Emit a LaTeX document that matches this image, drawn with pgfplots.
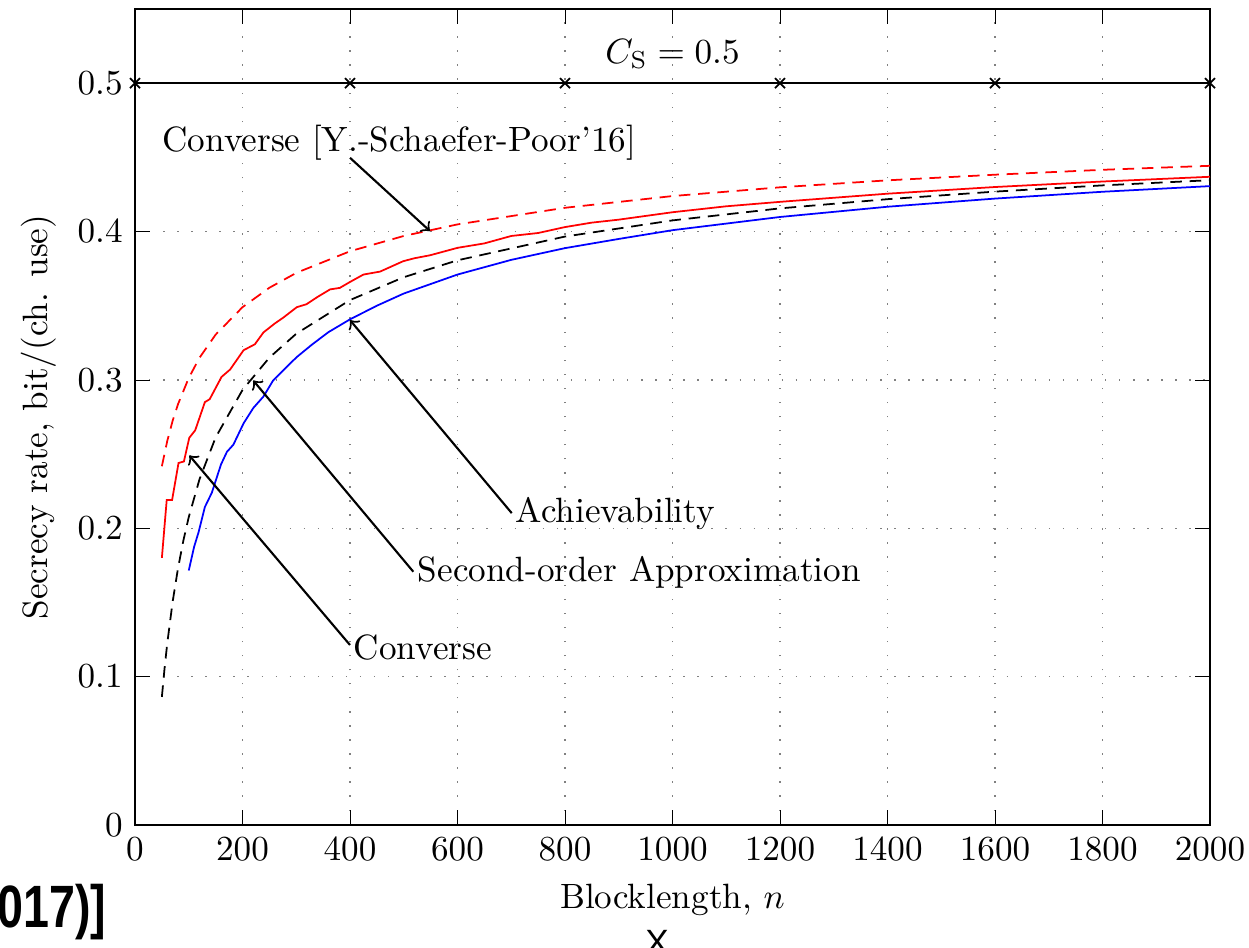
\documentclass[border=0pt]{standalone}
\usepackage{pgfplots}
\pgfplotsset{compat=1.18}
\usepackage{fontspec}
\newfontfamily\slidefont{Liberation Sans}

\pgfplotstableread{
n y
50 0.2418
60 0.2588
70 0.2724
80 0.2836
100 0.3013
120 0.3149
150 0.3305
200 0.3490
250 0.3621
300 0.3721
400 0.3867
500 0.3970
600 0.4048
800 0.4160
1000 0.4239
1200 0.4298
1400 0.4345
1600 0.4383
1800 0.4416
2000 0.4443
}\convprev

\pgfplotstableread{
n y
50 0.180
59 0.219
69 0.219
81 0.244
91 0.245
101 0.261
112 0.266
130 0.285
139 0.287
161 0.302
177 0.307
202 0.320
223 0.324
239 0.332
260 0.338
276 0.342
301 0.349
319 0.351
340 0.356
363 0.361
381 0.362
400 0.366
425 0.371
456 0.373
499 0.380
520 0.382
549 0.384
600 0.389
650 0.392
700 0.397
750 0.399
800 0.403
850 0.406
900 0.408
1000 0.413
1100 0.417
1200 0.420
1400 0.4255
1600 0.4300
1800 0.4337
2000 0.4369
}\conv

\pgfplotstableread{
n y
50 0.0863
55 0.1056
60 0.1224
70 0.1504
80 0.1730
90 0.1917
100 0.2075
120 0.2330
150 0.2612
200 0.2932
250 0.3150
300 0.3311
400 0.3538
500 0.3692
600 0.3806
800 0.3966
1000 0.4075
1200 0.4156
1400 0.4218
1600 0.4269
1800 0.4311
2000 0.4346
}\approxso

\pgfplotstableread{
n y
100 0.1715
110 0.1875
118 0.1970
130 0.2143
143 0.2240
160 0.2430
171 0.2515
183 0.2563
202 0.2707
220 0.2810
239 0.2888
257 0.2996
280 0.3080
301 0.3154
330 0.3240
360 0.3322
400 0.3408
450 0.3500
500 0.3582
600 0.3710
700 0.3809
800 0.3888
900 0.3950
1000 0.4009
1200 0.4098
1400 0.4167
1600 0.4222
1800 0.4268
2000 0.4306
}\achiev

\begin{document}
\begin{tikzpicture}
\useasboundingbox (0,0) rectangle (124.9mm,94.8mm);
\begin{axis}[at={(13.5mm,12.3mm)},anchor=south west,scale only axis,
 width=107.5mm,height=81.6mm,
 xmin=0,xmax=2000,ymin=0,ymax=0.55,
 xtick={0,200,...,2000},ytick={0,0.1,0.2,0.3,0.4,0.5},
 scaled ticks=false,/pgf/number format/1000 sep={},
 grid=major,grid style={gray,line width=0.4pt,dash pattern=on 0.4pt off 3.6pt},
 xlabel={Blocklength, $n$},ylabel={Secrecy rate, bit/(ch. use)},
 ylabel style={at={(axis description cs:-0.062,0.5)},anchor=south},
 tick style={black},clip=false]
 \addplot[black,line width=0.5pt,mark=x,mark size=2pt] coordinates
  {(0,0.5) (400,0.5) (800,0.5) (1200,0.5) (1600,0.5) (2000,0.5)};
 \addplot[red,line width=0.5pt,dash pattern=on 3.3pt off 2.2pt] table[x=n,y=y]{\convprev};
 \addplot[red,line width=0.5pt] table[x=n,y=y]{\conv};
 \addplot[black,line width=0.5pt,dash pattern=on 3.3pt off 2.2pt] table[x=n,y=y]{\approxso};
 \addplot[blue,line width=0.5pt] table[x=n,y=y]{\achiev};

 \node[anchor=base,inner sep=0pt] at (1000,0.5133) {$C_\mathrm{S}=0.5$};
 \node[anchor=base west,inner sep=0pt] at (50,0.4537) {Converse [Y.-Schaefer-Poor'16]};
 \draw[->,line width=0.6pt] (400,0.4497) -- (548.8,0.4003);
 \node[anchor=base west,inner sep=0pt] at (707,0.2037) {Achievability};
 \draw[->,line width=0.6pt] (700.9,0.2102) -- (400,0.3403);
 \node[anchor=base west,inner sep=0pt] at (525.2,0.1639) {Second-order Approximation};
 \draw[->,line width=0.6pt] (517.8,0.1707) -- (220,0.2996);
 \node[anchor=base west,inner sep=0pt] at (406,0.1112) {Converse};
 \draw[->,line width=0.6pt] (400,0.1213) -- (101,0.2491);
\end{axis}
\node[anchor=base east,inner sep=0pt] at (10.7mm,2.0mm)
 {\slidefont\fontsize{17}{20}\selectfont\bfseries\scalebox{0.78}[1]{2017)]}};
\node[anchor=north,inner sep=0pt] at (65.7mm,1.8mm) {\slidefont X};
\end{tikzpicture}
\end{document}
